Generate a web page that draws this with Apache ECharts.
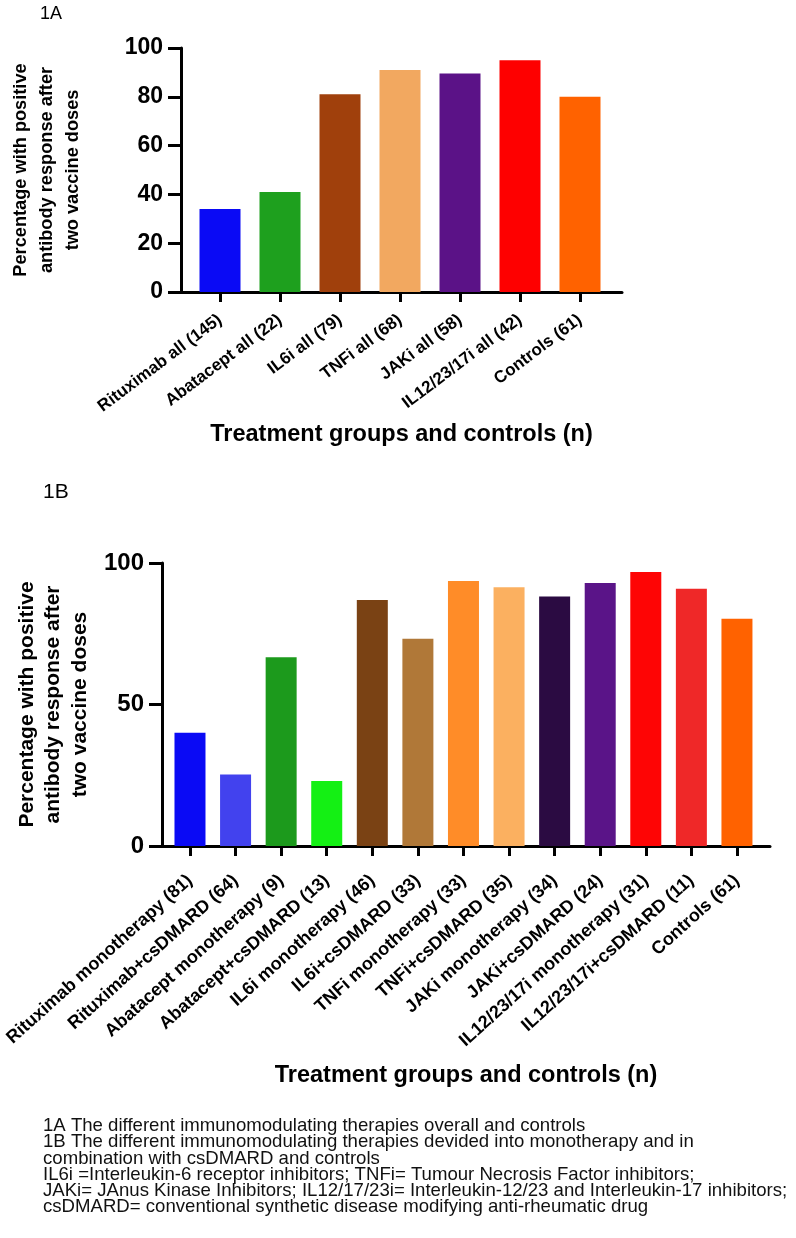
<!DOCTYPE html>
<html><head><meta charset="utf-8">
<script src="https://cdn.jsdelivr.net/npm/echarts@6/dist/echarts.min.js"></script>
<style>html,body{margin:0;padding:0;background:#fff}#c{width:796px;height:1238px}</style>
</head><body><div id="c"></div>
<script>
// ---- data ----
const catsA = ['Rituximab all (145)', 'Abatacept all (22)', 'IL6i all (79)', 'TNFi all (68)', 'JAKi all (58)', 'IL12/23/17i all (42)', 'Controls (61)'];
const valsA = [34, 41, 81, 91, 89.5, 95, 80];
const catsB = ['Rituximab monotherapy (81)', 'Rituximab+csDMARD (64)', 'Abatacept monotherapy (9)', 'Abatacept+csDMARD (13)', 'IL6i monotherapy (46)', 'IL6i+csDMARD (33)', 'TNFi monotherapy (33)', 'TNFi+csDMARD (35)', 'JAKi monotherapy (34)', 'JAKi+csDMARD (24)', 'IL12/23/17i monotherapy (31)', 'IL12/23/17i+csDMARD (11)', 'Controls (61)'];
const valsB = [40, 25.3, 66.7, 23, 86.9, 73.2, 93.6, 91.4, 88.2, 92.9, 96.8, 90.9, 80.3];
const yTicksA = {min: 0, max: 100, step: 20};
const yTicksB = {min: 0, max: 100, step: 50};
const yTitle = 'Percentage with positive\nantibody response after\ntwo vaccine doses';
const xTitle = 'Treatment groups and controls (n)';
const captionLines = [
  '1A The different immunomodulating therapies overall and controls',
  '1B The different immunomodulating therapies devided into monotherapy and in',
  'combination with csDMARD and controls',
  'IL6i =Interleukin-6 receptor inhibitors; TNFi= Tumour Necrosis Factor inhibitors;',
  'JAKi= JAnus Kinase Inhibitors; IL12/17/23i= Interleukin-12/23 and Interleukin-17 inhibitors;',
  'csDMARD= conventional synthetic disease modifying anti-rheumatic drug'
];

// ---- styles ----
const colorsA = ['#0a0af5', '#1ea01e', '#a0400c', '#f2a860', '#5b1287', '#fe0000', '#ff6200'];
const colorsB = ['#0a0af5', '#4242ee', '#1c9a1c', '#14f014', '#7a4214', '#b07838', '#ff8c28', '#fbb060', '#2b0b42', '#5a1488', '#fe0505', '#ef2828', '#ff6200'];
const FONT = '"Liberation Sans", Arial, Helvetica, sans-serif';
const idxA = catsA.map((c, i) => i);
const idxB = catsB.map((c, i) => i);

function xAxisCfg(grid, cats, idx, min, max, rot, margin, fs, gap, titleFs) {
  return {
    gridIndex: grid, type: 'value', min: min, max: max,
    axisLine: {show: true, onZero: false, lineStyle: {color: '#000', width: 3}},
    axisTick: {show: true, customValues: idx, length: 10, lineStyle: {color: '#000', width: 3}},
    axisLabel: {customValues: idx, formatter: v => cats[Math.round(v)], rotate: rot, margin: margin,
      fontSize: fs, fontWeight: 'bold', color: '#000', fontFamily: FONT},
    splitLine: {show: false},
    name: xTitle, nameLocation: 'middle', nameGap: gap,
    nameTextStyle: {fontSize: titleFs, fontWeight: 'bold', color: '#000', fontFamily: FONT}
  };
}
function yAxisCfg(grid, t, fs, gap, titleFs, lh) {
  return {
    gridIndex: grid, type: 'value', min: t.min, max: t.max, interval: t.step,
    axisLine: {show: true, onZero: false, lineStyle: {color: '#000', width: 3}},
    axisTick: {show: true, length: 13, lineStyle: {color: '#000', width: 3}},
    axisLabel: {margin: 18, fontSize: fs, fontWeight: 'bold', color: '#000', fontFamily: FONT},
    splitLine: {show: false},
    name: yTitle, nameLocation: 'middle', nameRotate: 90, nameGap: gap,
    nameTextStyle: {fontSize: titleFs, fontWeight: 'bold', color: '#000', fontFamily: FONT, lineHeight: lh, align: 'center'}
  };
}

const chart = echarts.init(document.getElementById('c'), null, {renderer: 'canvas'});
chart.setOption({
  backgroundColor: '#fff',
  animation: false,
  title: [
    {text: '1A', left: 35, top: 0, textStyle: {fontSize: 18, fontWeight: 'normal', color: '#000', fontFamily: FONT}},
    {text: '1B', left: 38, top: 477, textStyle: {fontSize: 21, fontWeight: 'normal', color: '#000', fontFamily: FONT}},
    {text: captionLines.join('\n'), left: 38, top: 1113,
      textStyle: {fontSize: 18.6, fontWeight: 'normal', color: '#111', fontFamily: FONT, lineHeight: 16.2}}
  ],
  grid: [
    {left: 181, top: 48, width: 441, height: 244},
    {left: 162, top: 563, width: 608, height: 283}
  ],
  xAxis: [
    xAxisCfg(0, catsA, idxA, -0.65, 6.7, 37, 26, 17, 131, 23.5),
    xAxisCfg(1, catsB, idxB, -0.614, 12.725, 42, 32, 18, 218, 23.5)
  ],
  yAxis: [
    yAxisCfg(0, yTicksA, 23, 95, 18.2, 26),
    yAxisCfg(1, yTicksB, 24, 69, 21, 26.5)
  ],
  series: [
    {type: 'bar', xAxisIndex: 0, yAxisIndex: 0, barWidth: 41,
      data: valsA.map((v, i) => ({value: [i, v], itemStyle: {color: colorsA[i]}}))},
    {type: 'bar', xAxisIndex: 1, yAxisIndex: 1, barWidth: 31,
      data: valsB.map((v, i) => ({value: [i, v], itemStyle: {color: colorsB[i]}}))}
  ]
});
</script>
</body></html>
